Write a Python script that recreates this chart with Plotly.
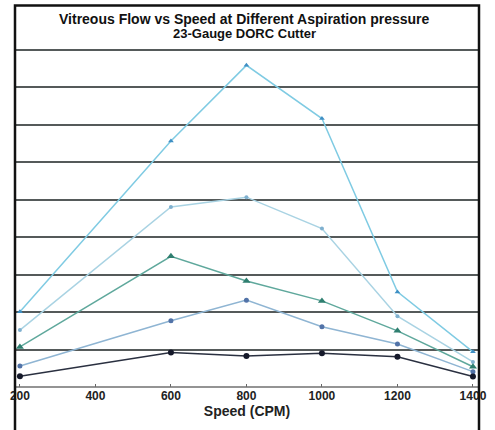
import plotly.graph_objects as go

speed = [200, 600, 800, 1000, 1200, 1400]
series_a = [0.29, 0.92, 0.83, 0.90, 0.81, 0.28]
series_b = [0.56, 1.77, 2.32, 1.61, 1.15, 0.41]
series_c = [1.07, 3.49, 2.83, 2.30, 1.50, 0.54]
series_d = [1.52, 4.81, 5.07, 4.23, 1.89, 0.67]
series_e = [2.01, 6.57, 8.59, 7.17, 2.54, 0.94]
x_ticks = [200, 400, 600, 800, 1000, 1200, 1400]
title_lines = ["Vitreous Flow vs Speed at Different Aspiration pressure", "23-Gauge DORC Cutter"]

styles = [
    (series_e, "#7fcbe3", "#3f8fc4", "triangle-up", 5),
    (series_d, "#a9d3e3", "#7fb0cf", "circle", 4),
    (series_c, "#5fa89c", "#2f7f70", "triangle-up", 7),
    (series_b, "#8fb5d3", "#5273a8", "circle", 5),
    (series_a, "#2a3040", "#15192a", "circle", 6),
]

fig = go.Figure()
for vals, lc, mc, sym, ms in styles:
    fig.add_trace(go.Scatter(
        x=speed, y=vals, mode="lines+markers",
        line=dict(color=lc, width=1.5),
        marker=dict(color=mc, symbol=sym, size=ms),
        showlegend=False,
    ))

annotations = [
    dict(text=title_lines[0], xref="paper", yref="paper", x=0.495, y=1.093,
         xanchor="center", yanchor="middle", showarrow=False,
         font=dict(family="Liberation Sans", size=14, color="#111111", weight="bold")),
    dict(text=title_lines[1], xref="paper", yref="paper", x=0.495, y=1.050,
         xanchor="center", yanchor="middle", showarrow=False,
         font=dict(family="Liberation Sans", size=13, color="#111111", weight="bold")),
]

fig.update_layout(
    width=495, height=430,
    margin=dict(l=15, r=8, t=49.5, b=43),
    paper_bgcolor="white", plot_bgcolor="white",
    annotations=annotations,
    xaxis=dict(
        range=[187, 1416], tickvals=x_ticks, ticktext=[str(v) for v in x_ticks],
        showgrid=False, zeroline=False, showline=False,
        ticks="inside", ticklen=3, tickcolor="#666666",
        tickfont=dict(family="Liberation Sans", size=12, color="#222222", weight="bold"),
        title=dict(text="Speed (CPM)", standoff=3,
                   font=dict(family="Liberation Sans", size=14, color="#222222", weight="bold")),
    ),
    yaxis=dict(
        range=[0, 9], dtick=1, showticklabels=False,
        showgrid=True, gridcolor="#555a5a", gridwidth=1.8,
        zeroline=False, showline=False,
    ),
    shapes=[
        dict(type="line", xref="paper", yref="paper", x0=0, x1=1, y0=0, y1=0,
             line=dict(color="#707070", width=1.5)),
        dict(type="line", xref="paper", yref="paper", x0=0, x1=1, y0=1, y1=1,
             line=dict(color="#555a5a", width=1.8)),
        dict(type="rect", xref="paper", yref="paper", x0=0, x1=1, y0=-0.14, y1=1.132,
             line=dict(color="#111111", width=2.5)),
    ],
)

fig.write_html("out.html")
